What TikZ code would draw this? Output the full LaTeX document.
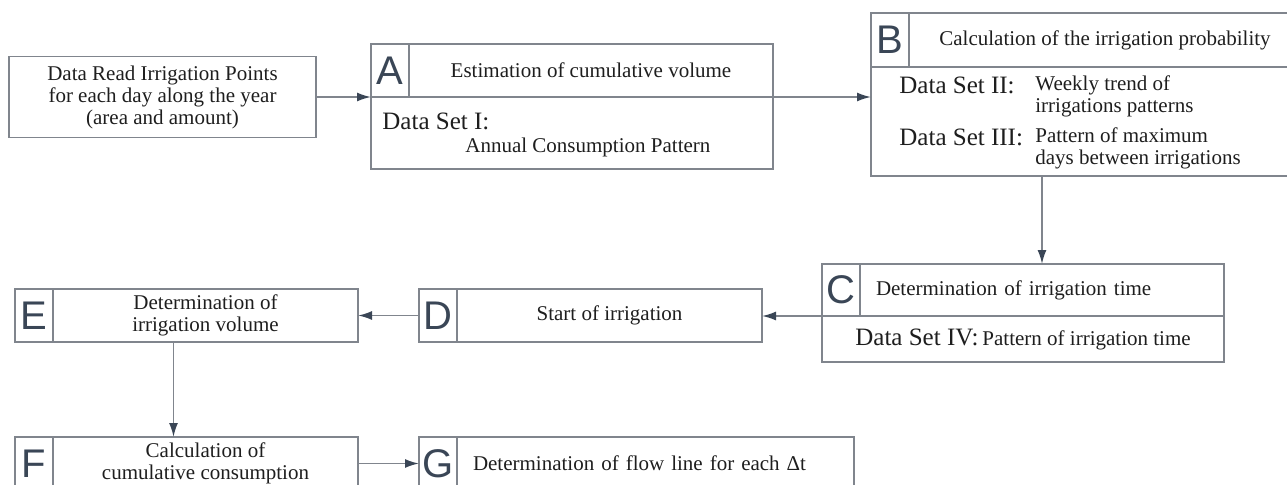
\documentclass[tikz,border=0pt]{standalone}
\usepackage{fontspec}
\setmainfont{Liberation Serif}
\newfontfamily\lettfont{Liberation Sans}
\usetikzlibrary{arrows.meta,positioning}
\definecolor{linegray}{RGB}{128,133,141}
\definecolor{slate}{RGB}{58,70,86}
\definecolor{txt}{RGB}{30,30,30}
\newcommand{\dsfont}{\fontsize{12.5}{14}\selectfont}

\begin{document}
\begin{tikzpicture}[x=0.5pt,y=-0.5pt,>={Latex[length=7pt,width=4.5pt,color=slate]},
  box/.style={draw=linegray,line width=0.9pt,outer sep=0pt,inner sep=1pt,text=txt,font=\fontsize{10.5}{11}\selectfont},
  letter/.style={box,anchor=north west,minimum width=19pt,minimum height=26.5pt,text=slate,font=\lettfont\fontsize{20}{20}\selectfont},
  head/.style={box,minimum height=26.5pt,align=center},
  body/.style={box,anchor=north west},
  dset/.style={inner sep=0pt,anchor=west,text=txt,font=\dsfont},
  note/.style={inner sep=0pt,anchor=west,align=left,text=txt,font=\fontsize{10.5}{11}\selectfont},
  flow/.style={->,draw=linegray,line width=0.9pt}]
  \useasboundingbox (0,0) rectangle (1287,484);
  \clip (0,0) rectangle (1287,484);

  \node[box,minimum width=153.5pt,minimum height=40.5pt,align=center] (In) at (162.5,97) {Data Read Irrigation Points\\for each day along the year\\(area and amount)};

  \node[letter] (Al) at (371,44) {A};
  \node[head,minimum width=182pt,right=0pt of Al] (Ah) {Estimation of cumulative volume};
  \node[body,minimum width=201pt,minimum height=36pt] (Ab) at (Al.south west) {};
  \node[dset] (A1) at ([shift={(5.5pt,-12pt)}]Ab.north west) {Data Set I:};
  \node[note] (A1t) at ([shift={(47pt,-25pt)}]Ab.north west) {Annual Consumption Pattern};

  \node[letter,minimum height=27pt] (Bl) at (871,13) {B};
  \node[head,minimum width=196pt,minimum height=27pt,right=0pt of Bl] (Bh) {Calculation of the irrigation probability};
  \node[body,minimum width=215pt,minimum height=54.5pt] (Bb) at (Bl.south west) {};
  \node[dset] (B2) at ([shift={(14pt,-9pt)}]Bb.north west) {Data Set II:};
  \node[note] (B2t) at ([shift={(82pt,-14.5pt)}]Bb.north west) {Weekly trend of\\irrigations patterns};
  \node[dset] (B3) at ([shift={(14pt,-35pt)}]Bb.north west) {Data Set III:};
  \node[note] (B3t) at ([shift={(82pt,-40.75pt)}]Bb.north west) {Pattern of maximum\\days between irrigations};

  \node[letter,minimum height=26pt] (Cl) at (822,264) {C};
  \node[head,minimum width=182pt,minimum height=26pt,text width=166pt,align=left,right=0pt of Cl] (Ch) {Determination of irrigation time};
  \node[body,minimum width=201pt,minimum height=23pt] (Cb) at (Cl.south west) {{\dsfont Data Set IV:}\hspace{2pt}Pattern of irrigation time};

  \node[letter] (Dl) at (419,289) {D};
  \node[head,minimum width=152.5pt,right=0pt of Dl] (Dh) {Start of irrigation};
  \node[letter] (El) at (15,289) {E};
  \node[head,minimum width=152.5pt,right=0pt of El] (Eh) {Determination of\\irrigation volume};

  \node[letter] (Fl) at (15,437) {F};
  \node[head,minimum width=152.5pt,right=0pt of Fl] (Fh) {Calculation of\\cumulative consumption};
  \node[letter] (Gl) at (419,437) {G};
  \node[head,minimum width=198.5pt,text width=182.5pt,align=left,right=0pt of Gl] (Gh) {Determination of flow line for each Δt};

  \draw[flow] (In.east) -- (In.east -| Al.west);
  \draw[flow] (Ah.south east) -- (Ah.south east -| Bb.west);
  \draw[flow] (Ch.north |- Bb.south) -- (Ch.north);
  \draw[flow] (Cl.south west) -- (Cl.south west -| Dh.east);
  \draw[flow] (Dl.west) -- (Eh.east);
  \coordinate (ef) at ([xshift=-16pt]Eh.south);
  \draw[flow] (ef) -- (ef |- Fh.north);
  \draw[flow] (Fh.east) -- (Gl.west);
\end{tikzpicture}
\end{document}
